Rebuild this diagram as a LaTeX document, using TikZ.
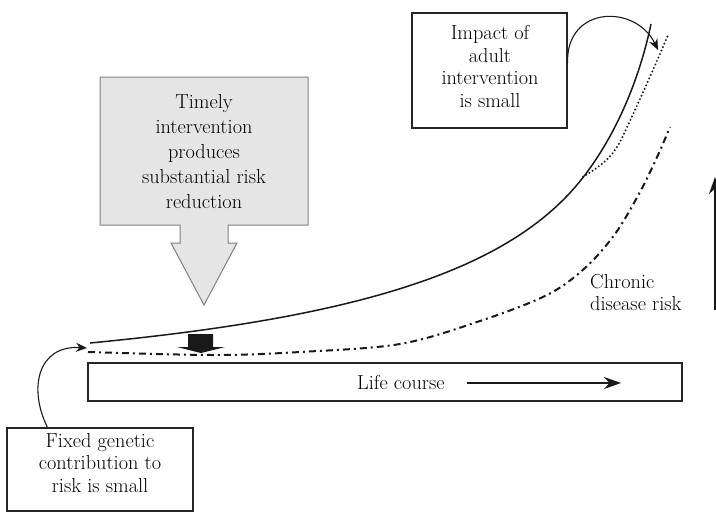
\documentclass[tikz,border=0pt]{standalone}
\usetikzlibrary{arrows.meta}
\begin{document}
\begin{tikzpicture}[x=1pt,y=-1pt,
  lbl/.style={font=\fontsize{20.3}{22.5}\selectfont, align=center, text=black, inner sep=0pt},
  lblg/.style={font=\fontsize{20.3}{25}\selectfont, align=center, text=black, inner sep=0pt},
  boxframe/.style={draw=black!85, line width=1.1pt, inner sep=0pt},
  solidcurve/.style={draw=black!90, line width=1.5pt},
  dotcurve/.style={draw=black!90, line width=2.2pt, line cap=round, dash pattern=on 0pt off 3.8pt},
  dashdotcurve/.style={draw=black!90, line width=2pt, dash pattern=on 7pt off 4pt on 2pt off 4pt},
  callout/.style={draw=black!90, line width=1.1pt, -{Stealth[length=11pt,width=9pt]}},
  thickarrow/.style={draw=black!90, line width=2pt, -{Stealth[length=17pt,width=12pt]}}
]
\useasboundingbox (0,0) rectangle (716,512);

% grey block arrow
\path[fill=black!10, draw=black!50, line width=1pt]
  (100,77) -- (308,77) -- (308,225) -- (228,225) -- (228,243) -- (237,243)
  -- (204,305) -- (171,243) -- (180,243) -- (180,225) -- (100,225) -- cycle;
\node[lblg] (timely) at (204,151.5) {Timely\\intervention\\produces\\substantial risk\\reduction};

% boxes
\node[boxframe, minimum width=155pt, minimum height=115pt] (ibox) at (489.5,70.5) {};
\node[lbl] (itext) at (490,66.5) {Impact of\\adult\\intervention\\is small};

\node[boxframe, minimum width=186pt, minimum height=83pt] (gbox) at (100,469.5) {};
\node[lbl] (gtext) at (100,463) {Fixed genetic\\contribution to\\risk is small};

\node[boxframe, minimum width=594pt, minimum height=38pt] (lbox) at (385,382) {};
\node[lbl, anchor=west] (ltext) at (357,382) {Life course};
\coordinate (la1) at (467,383);
\coordinate (la2) at (621,383);
\draw[thickarrow] (la1) -- (la2);

% curves
\draw[solidcurve] (90,343) .. controls (330,320) and (480,280) .. (560,203)
  .. controls (600,165) and (635,100) .. (651,24);
\draw[dotcurve] (583,177) .. controls (603,164) and (612,158) .. (622,138)
  .. controls (638,104) and (655,66) .. (668,35);
\draw[dashdotcurve] plot[smooth, tension=0.55] coordinates
  {(88,352) (213,355) (300,352) (400,344) (480,321) (547,295) (585,268) (615,234) (640,192) (658,155) (670,127)};

% black block arrow
\path[fill=black!90] (188,334) -- (213,334) -- (213,347) -- (225,347) -- (201,353)
  -- (177,347) -- (188,347) -- cycle;

% callout arrows
\coordinate (imptip) at (658,50);
\draw[callout] ([yshift=7.5pt]ibox.east) .. controls (566,5) and (636,4) .. (imptip);
\coordinate (gentip) at (87,348);
\draw[callout] ([xshift=41pt]gbox.north west) .. controls (28,388) and (38,345) .. (gentip);

% risk axis
\node[lbl, align=left, anchor=north west] (chronic) at (590,274) {Chronic\\disease risk};
\coordinate (r1) at (715,310);
\coordinate (r2) at (715,177);
\draw[thickarrow] (r1) -- (r2);
\end{tikzpicture}
\end{document}
